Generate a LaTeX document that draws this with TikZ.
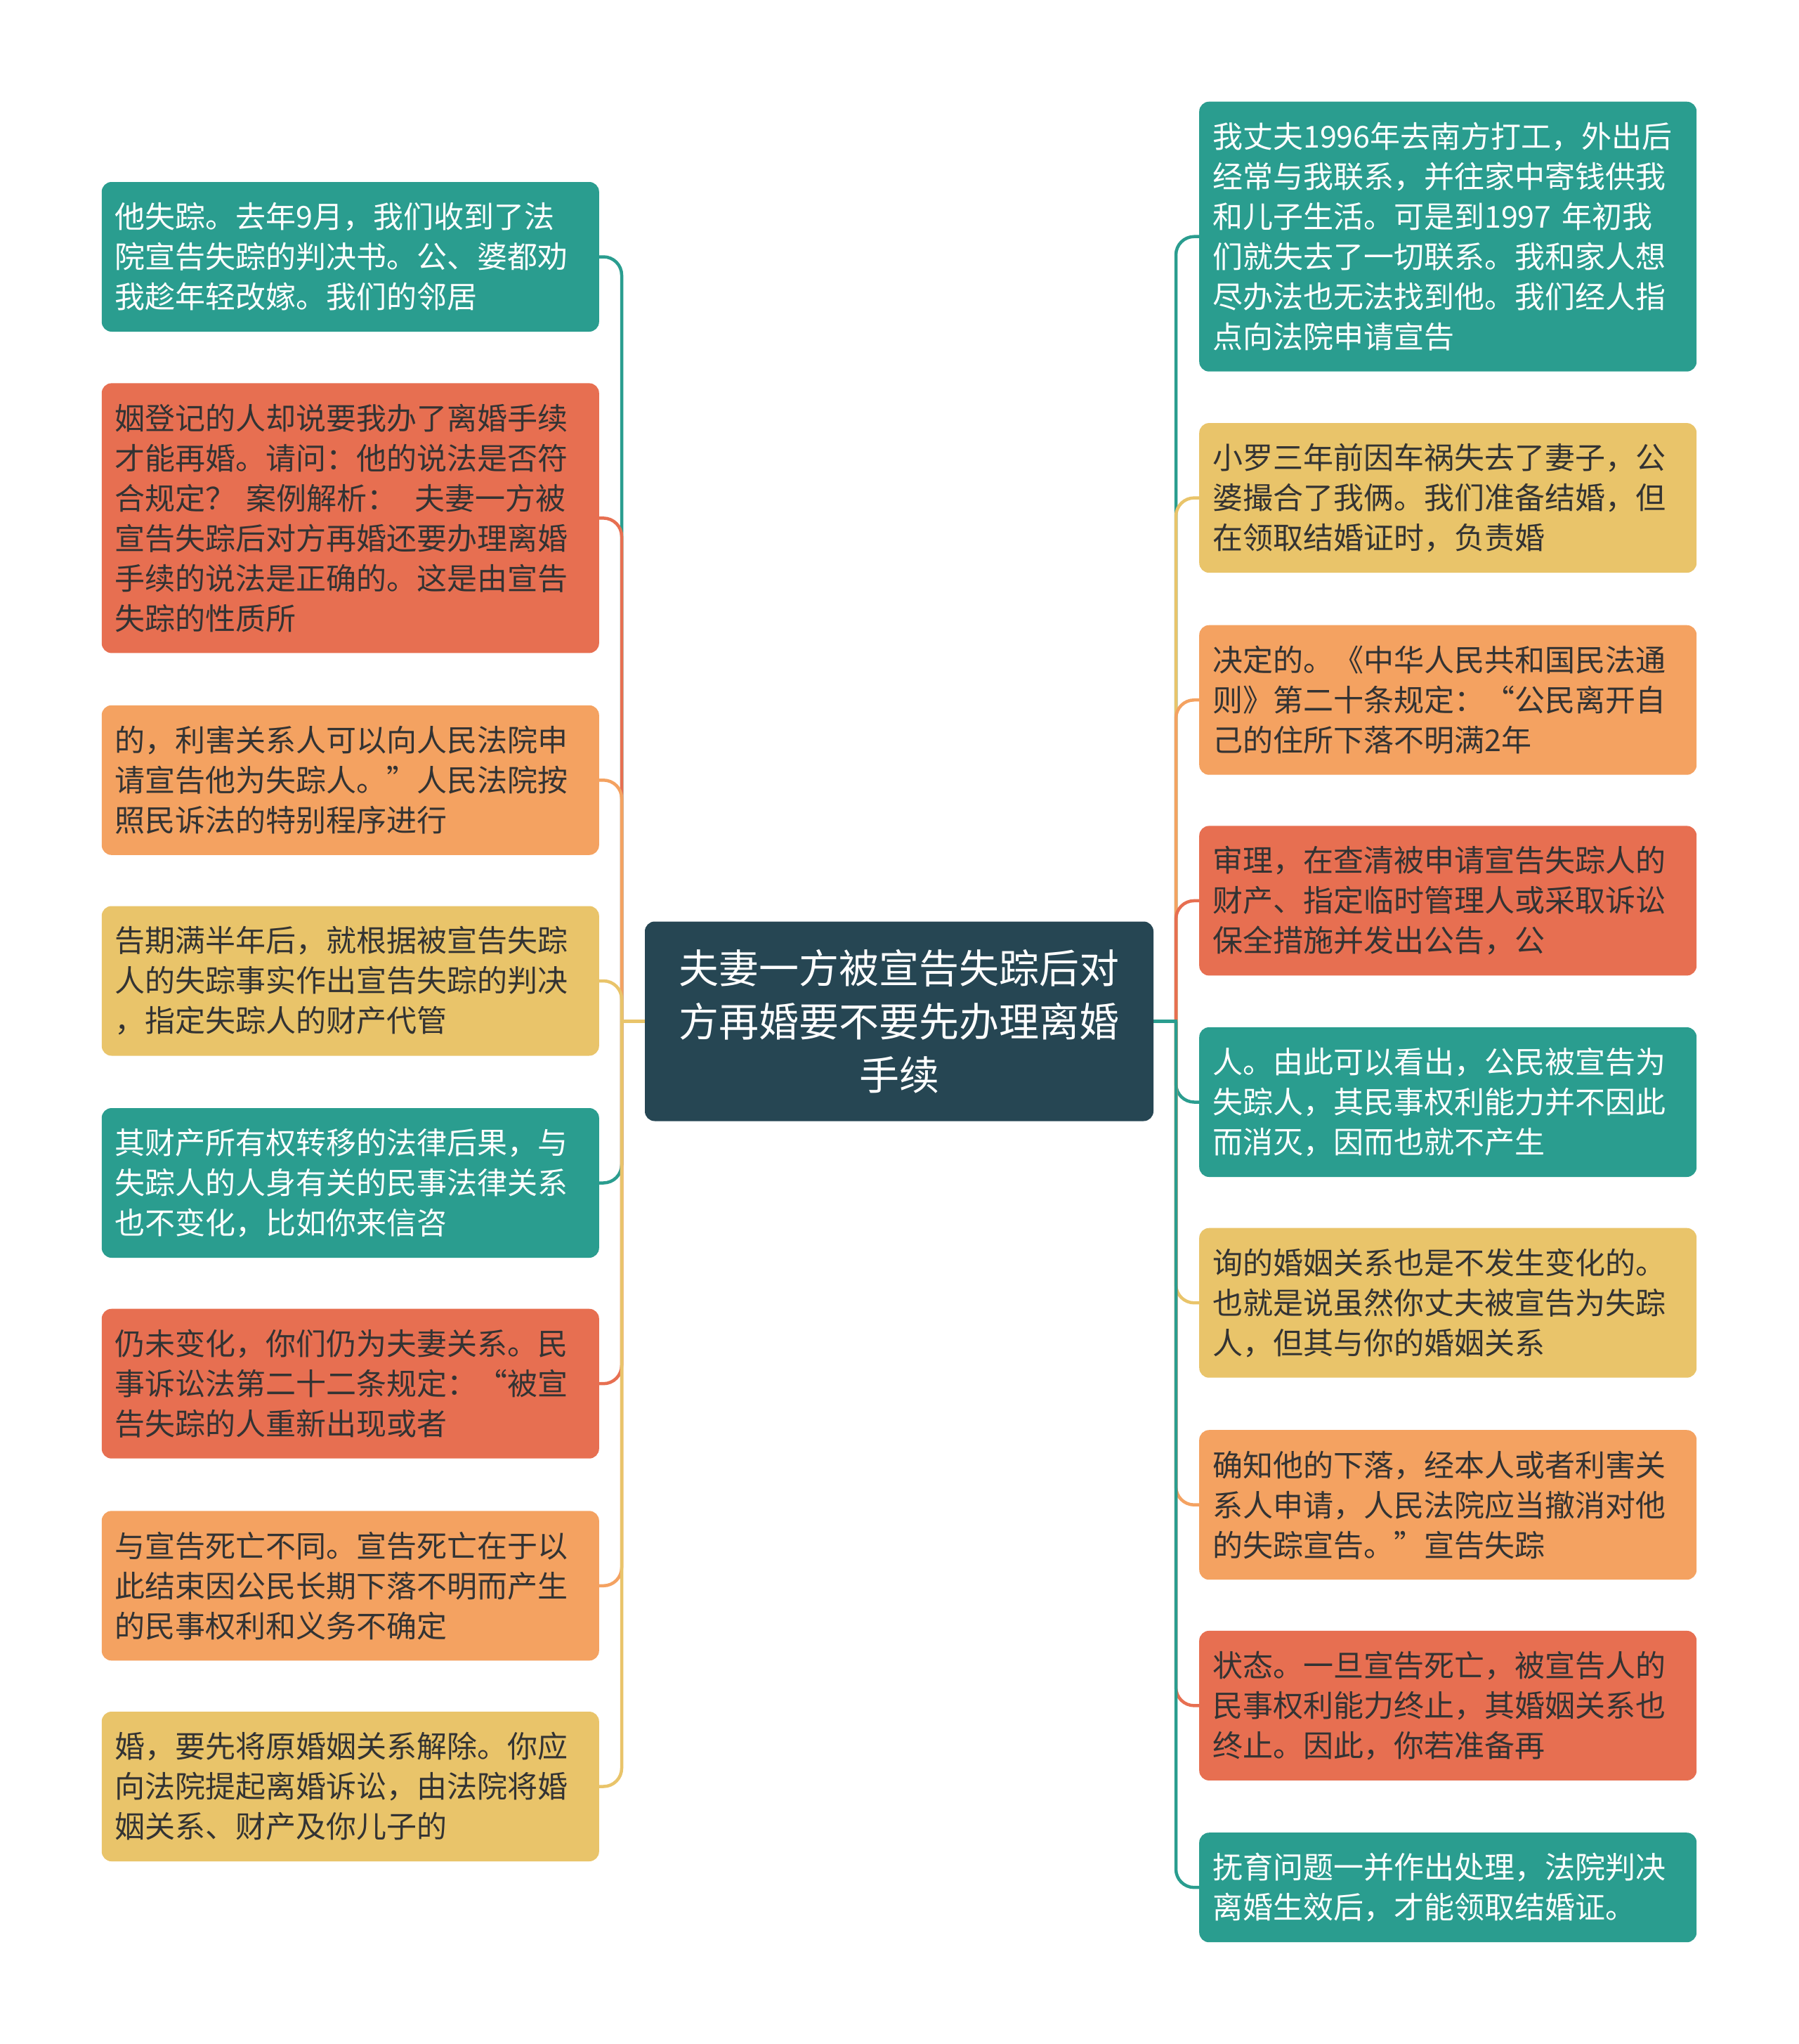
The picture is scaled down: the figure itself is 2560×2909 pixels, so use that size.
\documentclass[tikz,border=0pt]{standalone}
\usepackage{fontspec}
\newfontfamily\cjk{Noto Sans CJK SC}
\usetikzlibrary{backgrounds}
\definecolor{cteal}{HTML}{2A9D8F}
\definecolor{cyel}{HTML}{E9C46A}
\definecolor{corg}{HTML}{F4A261}
\definecolor{cred}{HTML}{E76F51}
\definecolor{cdark}{HTML}{264653}
\definecolor{ctext}{HTML}{333333}
\tikzset{
  leaf/.style={rounded corners=14pt, minimum width=708pt, text width=670pt,
    inner xsep=19pt, inner ysep=0pt, align=left,
    font=\cjk\fontsize{43}{57}\selectfont},
  hthree/.style={minimum height=213pt},
  hsix/.style={minimum height=384pt},
  htwo/.style={minimum height=156pt},
  bteal/.style={leaf, fill=cteal, text=white},
  byel/.style={leaf, fill=cyel, text=ctext},
  borg/.style={leaf, fill=corg, text=ctext},
  bred/.style={leaf, fill=cred, text=ctext},
  rootbox/.style={rounded corners=14pt, fill=cdark, text=white, minimum width=724pt,
    minimum height=284pt, text width=690pt, align=center, inner sep=0pt,
    font=\cjk\fontsize{57}{76}\selectfont},
  conn/.style={line width=4.5pt, rounded corners=26pt},
  stub/.style={line width=4.5pt},
}
\begin{document}
\begin{tikzpicture}[x=1pt,y=-1pt]
\useasboundingbox (0,0) rectangle (2560,2909);
\node[rootbox] (C) at (1280,1453.5) {夫妻一方被宣告失踪后对\\方再婚要不要先办理离婚\\手续};
% left
\node[bteal,hthree,anchor=east] (L1) at (853,365.5) {他失踪。去年9月，我们收到了法\\院宣告失踪的判决书。公、婆都劝\\我趁年轻改嫁。我们的邻居};
\node[bred,hsix,anchor=east] (L2) at (853,737.4) {姻登记的人却说要我办了离婚手续\\才能再婚。请问：他的说法是否符\\合规定？ 案例解析：\hspace{0.6em}夫妻一方被\\宣告失踪后对方再婚还要办理离婚\\手续的说法是正确的。这是由宣告\\失踪的性质所};
\node[borg,hthree,anchor=east] (L3) at (853,1110.3) {的，利害关系人可以向人民法院申\\请宣告他为失踪人。”人民法院按\\照民诉法的特别程序进行};
\node[byel,hthree,anchor=east] (L4) at (853,1396) {告期满半年后，就根据被宣告失踪\\人的失踪事实作出宣告失踪的判决\\，指定失踪人的财产代管};
\node[bteal,hthree,anchor=east] (L5) at (853,1683.5) {其财产所有权转移的法律后果，与\\失踪人的人身有关的民事法律关系\\也不变化，比如你来信咨};
\node[bred,hthree,anchor=east] (L6) at (853,1969.2) {仍未变化，你们仍为夫妻关系。民\\事诉讼法第二十二条规定：“被宣\\告失踪的人重新出现或者};
\node[borg,hthree,anchor=east] (L7) at (853,2256.8) {与宣告死亡不同。宣告死亡在于以\\此结束因公民长期下落不明而产生\\的民事权利和义务不确定};
\node[byel,hthree,anchor=east] (L8) at (853,2542.5) {婚，要先将原婚姻关系解除。你应\\向法院提起离婚诉讼，由法院将婚\\姻关系、财产及你儿子的};
% right
\node[bteal,hsix,anchor=west] (R1) at (1707,336.7) {我丈夫1996年去南方打工，外出后\\经常与我联系，并往家中寄钱供我\\和儿子生活。可是到1997 年初我\\们就失去了一切联系。我和家人想\\尽办法也无法找到他。我们经人指\\点向法院申请宣告};
\node[byel,hthree,anchor=west] (R2) at (1707,708.6) {小罗三年前因车祸失去了妻子，公\\婆撮合了我俩。我们准备结婚，但\\在领取结婚证时，负责婚};
\node[borg,hthree,anchor=west] (R3) at (1707,996.2) {决定的。《中华人民共和国民法通\\则》第二十条规定：“公民离开自\\己的住所下落不明满2年};
\node[bred,hthree,anchor=west] (R4) at (1707,1281.9) {审理，在查清被申请宣告失踪人的\\财产、指定临时管理人或采取诉讼\\保全措施并发出公告，公};
\node[bteal,hthree,anchor=west] (R5) at (1707,1568.5) {人。由此可以看出，公民被宣告为\\失踪人，其民事权利能力并不因此\\而消灭，因而也就不产生};
\node[byel,hthree,anchor=west] (R6) at (1707,1854.2) {询的婚姻关系也是不发生变化的。\\也就是说虽然你丈夫被宣告为失踪\\人，但其与你的婚姻关系};
\node[borg,hthree,anchor=west] (R7) at (1707,2141.7) {确知他的下落，经本人或者利害关\\系人申请，人民法院应当撤消对他\\的失踪宣告。”宣告失踪};
\node[bred,hthree,anchor=west] (R8) at (1707,2427.4) {状态。一旦宣告死亡，被宣告人的\\民事权利能力终止，其婚姻关系也\\终止。因此，你若准备再};
\node[bteal,htwo,anchor=west] (R9) at (1707,2686.2) {抚育问题一并作出处理，法院判决\\离婚生效后，才能领取结婚证。};
\coordinate (TL) at (885,0);
\coordinate (TR) at (1674,0);
\coordinate (JL) at (C.west -| TL);
\coordinate (JR) at (C.east -| TR);
\begin{scope}[on background layer]
\fill[white] (0,0) rectangle (2560,2909);
\draw[conn,cteal] (JL) |- (L1.east);
\draw[conn,cred]  (JL) |- (L2.east);
\draw[conn,corg]  (JL) |- (L3.east);
\draw[conn,cyel]  (JL) |- (L4.east);
\draw[conn,cteal] (JL) |- (L5.east);
\draw[conn,cred]  (JL) |- (L6.east);
\draw[conn,corg]  (JL) |- (L7.east);
\draw[conn,cyel]  (JL) |- (L8.east);
\draw[stub,cyel]  (C.west) -- ([xshift=-2.25pt]JL);
\draw[conn,cteal] (JR) |- (R1.west);
\draw[conn,cyel]  (JR) |- (R2.west);
\draw[conn,corg]  (JR) |- (R3.west);
\draw[conn,cred]  (JR) |- (R4.west);
\draw[conn,cteal] (JR) |- (R5.west);
\draw[conn,cyel]  (JR) |- (R6.west);
\draw[conn,corg]  (JR) |- (R7.west);
\draw[conn,cred]  (JR) |- (R8.west);
\draw[conn,cteal] (JR) |- (R9.west);
\draw[stub,cteal] (C.east) -- ([xshift=2.25pt]JR);
\end{scope}
\end{tikzpicture}
\end{document}
